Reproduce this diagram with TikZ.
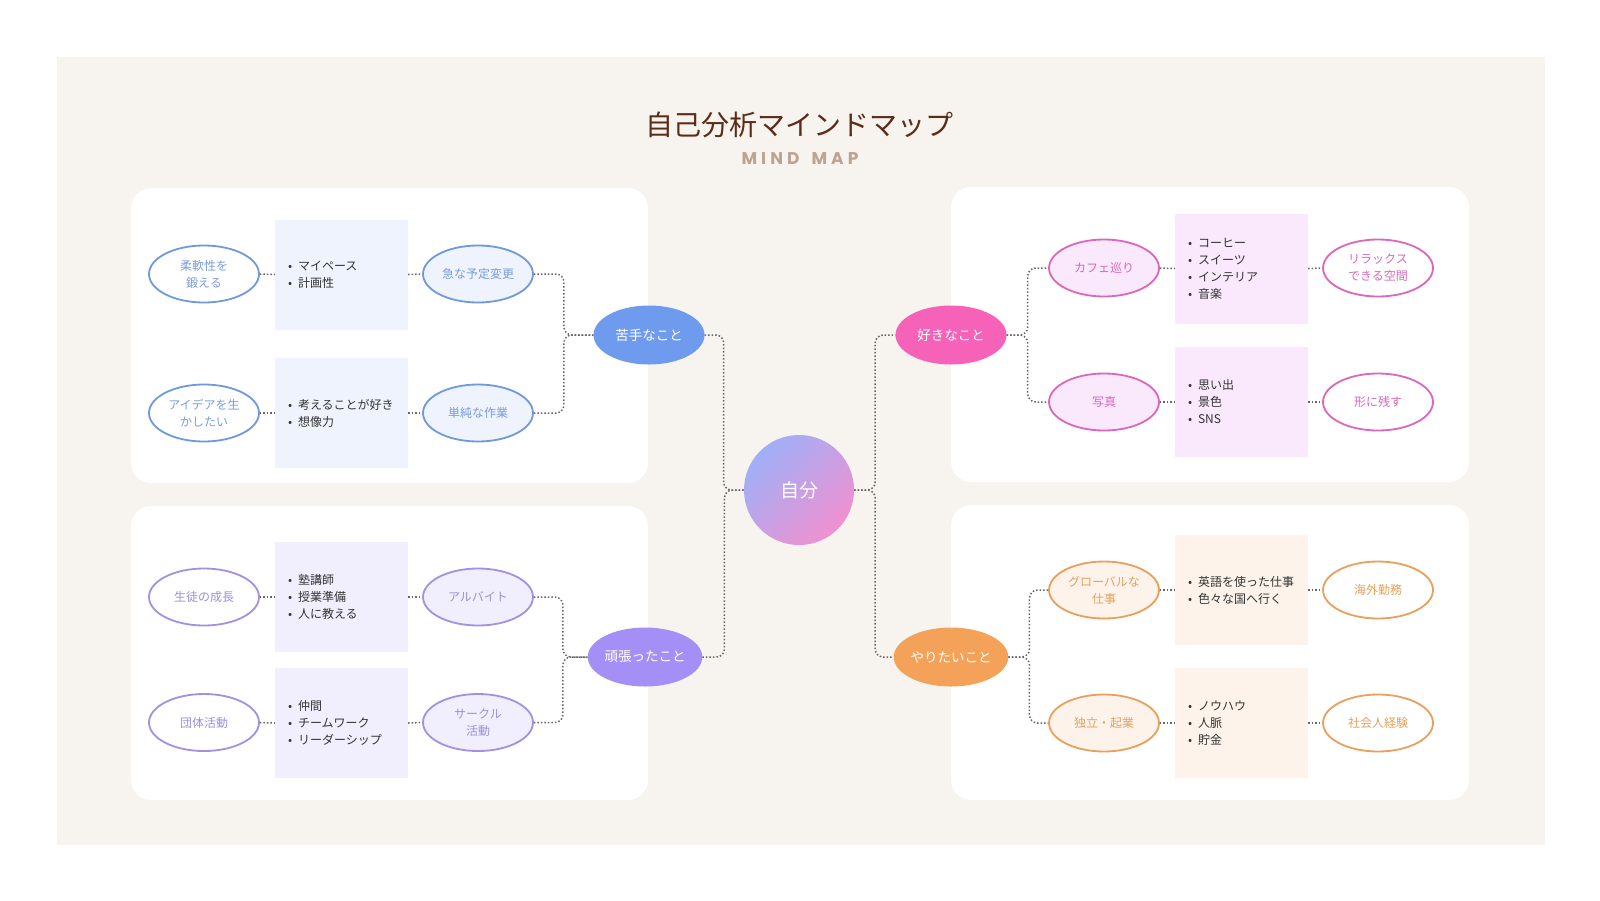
\documentclass[tikz,border=0pt]{standalone}
\usepackage{fontspec}
\setmainfont{Noto Sans CJK JP}
\newfontfamily\popf{Poppins}[LetterSpace=24]
\usetikzlibrary{shapes.geometric}
\definecolor{bgc}{HTML}{F7F3EE}
\definecolor{titlec}{HTML}{5B2C17}
\definecolor{subc}{HTML}{BCA493}
\definecolor{txt}{HTML}{333333}
\definecolor{conc}{HTML}{666666}
\definecolor{blueM}{HTML}{6E9BEE}
\definecolor{blueS}{HTML}{7099DC}
\definecolor{blueT}{HTML}{7A9DDA}
\definecolor{blueL}{HTML}{EEF3FD}
\definecolor{purM}{HTML}{A48FF6}
\definecolor{purS}{HTML}{A490E2}
\definecolor{purT}{HTML}{9E8FDD}
\definecolor{purL}{HTML}{F1EEFD}
\definecolor{pinkM}{HTML}{F562B8}
\definecolor{pinkS}{HTML}{DD66BA}
\definecolor{pinkT}{HTML}{D968B8}
\definecolor{pinkL}{HTML}{FAE8FC}
\definecolor{oraM}{HTML}{F4A25A}
\definecolor{oraS}{HTML}{E9A05C}
\definecolor{oraT}{HTML}{E3A15E}
\definecolor{oraL}{HTML}{FDF3EA}
\definecolor{meA}{HTML}{9FB0F8}
\definecolor{meB}{HTML}{F090D0}
\newcommand\itm{\makebox[10pt][l]{•}}
\begin{document}
\begin{tikzpicture}[x=1pt,y=-1pt,
  panel/.style={fill=white, rounded corners=20pt},
  oval/.style={ellipse, minimum width=110pt, minimum height=57pt, inner sep=0pt,
    line width=1.8pt, align=center, font=\fontsize{12}{17}\selectfont},
  mainn/.style={ellipse, minimum width=111pt, minimum height=59pt, inner sep=0pt,
    text=white, font=\fontsize{13.5}{16}\selectfont},
  listbox/.style={rectangle, minimum width=133pt, minimum height=110pt, text width=107pt,
    inner xsep=13pt, inner ysep=0pt, align=left, text=txt, font=\fontsize{12}{17}\selectfont},
  conn/.style={draw=conc, line width=1.5pt, dash pattern=on 1.5pt off 2pt, rounded corners=8pt},
  blueo/.style={oval, draw=blueS, text=blueT, fill=white},
  bluei/.style={oval, draw=blueS, text=blueT, fill=blueL},
  puro/.style={oval, draw=purS, text=purT, fill=white},
  puri/.style={oval, draw=purS, text=purT, fill=purL},
  pinko/.style={oval, draw=pinkS, text=pinkT, fill=white},
  pinki/.style={oval, draw=pinkS, text=pinkT, fill=pinkL},
  orao/.style={oval, draw=oraS, text=oraT, fill=white},
  orai/.style={oval, draw=oraS, text=oraT, fill=oraL},
]
\useasboundingbox (0,0) rectangle (1600,900);
\fill[white] (0,0) rectangle (1600,900);
\fill[bgc] (57,57) rectangle (1545,845);
\fill[panel] (131,188) rectangle (648,483);
\fill[panel] (131,506) rectangle (648,800);
\fill[panel] (951,187) rectangle (1469,482);
\fill[panel] (951,505) rectangle (1469,800);

\node[text=titlec, font=\fontsize{28}{30}\selectfont] (title) at (799,125) {自己分析マインドマップ};
\node[text=subc, font=\popf\bfseries\fontsize{17}{20}\selectfont] (sub) at (800,159) {MIND\hspace{12pt}MAP};

% center
\node[circle, minimum size=110pt, inner sep=0pt, top color=meA, bottom color=meB, shading angle=45,
  text=white, font=\fontsize{19}{22}\selectfont] (me) at (799,490) {自分};

% main nodes
\node[mainn, fill=blueM] (nig) at (649,335) {苦手なこと};
\node[mainn, fill=pinkM] (suki) at (951,335) {好きなこと};
\node[mainn, fill=purM] (gan) at (645,657) {頑張ったこと};
\node[mainn, fill=oraM] (yari) at (951,657) {やりたいこと};

% top-left
\node[blueo] (tl1o) at (204,274) {柔軟性を\\鍛える};
\node[listbox, fill=blueL] (tl1b) at (341.5,274.5) {\itm マイペース\\\itm 計画性};
\node[bluei] (tl1i) at (478,274) {急な予定変更};
\node[blueo] (tl2o) at (204,413) {アイデアを生\\かしたい};
\node[listbox, fill=blueL] (tl2b) at (341.5,413) {\itm 考えることが好き\\\itm 想像力};
\node[bluei] (tl2i) at (478,413) {単純な作業};

% bottom-left
\node[puro] (bl1o) at (204,597) {生徒の成長};
\node[listbox, fill=purL] (bl1b) at (341.5,597) {\itm 塾講師\\\itm 授業準備\\\itm 人に教える};
\node[puri] (bl1i) at (478,597) {アルバイト};
\node[puro] (bl2o) at (204,722.5) {団体活動};
\node[listbox, fill=purL] (bl2b) at (341.5,723) {\itm 仲間\\\itm チームワーク\\\itm リーダーシップ};
\node[puri] (bl2i) at (478,722.5) {サークル\\活動};

% top-right
\node[pinki] (tr1i) at (1104,268) {カフェ巡り};
\node[listbox, fill=pinkL] (tr1b) at (1241.5,268.5) {\itm コーヒー\\\itm スイーツ\\\itm インテリア\\\itm 音楽};
\node[pinko] (tr1o) at (1378,268) {リラックス\\できる空間};
\node[pinki] (tr2i) at (1104,402) {写真};
\node[listbox, fill=pinkL] (tr2b) at (1241.5,402) {\itm 思い出\\\itm 景色\\\itm SNS};
\node[pinko] (tr2o) at (1378,402) {形に残す};

% bottom-right
\node[orai] (br1i) at (1104,590) {グローバルな\\仕事};
\node[listbox, fill=oraL] (br1b) at (1241.5,590) {\itm 英語を使った仕事\\\itm 色々な国へ行く};
\node[orao] (br1o) at (1378,590) {海外勤務};
\node[orai] (br2i) at (1104,723) {独立・起業};
\node[listbox, fill=oraL] (br2b) at (1241.5,723) {\itm ノウハウ\\\itm 人脈\\\itm 貯金};
\node[orao] (br2o) at (1378,723) {社会人経験};

% connectors
\foreach \p in {tl1,tl2,bl1,bl2}{
  \draw[conn] (\p o.east) -- (\p b.west);
  \draw[conn] (\p b.east) -- (\p i.west);
}
\foreach \p in {tr1,tr2,br1,br2}{
  \draw[conn] (\p i.east) -- (\p b.west);
  \draw[conn] (\p b.east) -- (\p o.west);
}
\draw[conn] (tl1i.east) -- ++(30,0) |- (nig.west);
\draw[conn] (tl2i.east) -- ++(30,0) |- (nig.west);
\draw[conn] (bl1i.east) -- ++(29,0) |- (gan.west);
\draw[conn] (bl2i.east) -- ++(29,0) |- (gan.west);
\draw[conn] (suki.east) -- ++(21,0) |- (tr1i.west);
\draw[conn] (suki.east) -- ++(21,0) |- (tr2i.west);
\draw[conn] (yari.east) -- ++(21,0) |- (br1i.west);
\draw[conn] (yari.east) -- ++(21,0) |- (br2i.west);
\draw[conn] (nig.east) -- ++(19,0) |- (me.west);
\draw[conn] (gan.east) -- ++(22,0) |- (me.west);
\draw[conn] (me.east) -- ++(21,0) |- (suki.west);
\draw[conn] (me.east) -- ++(21,0) |- (yari.west);
\end{tikzpicture}
\end{document}
